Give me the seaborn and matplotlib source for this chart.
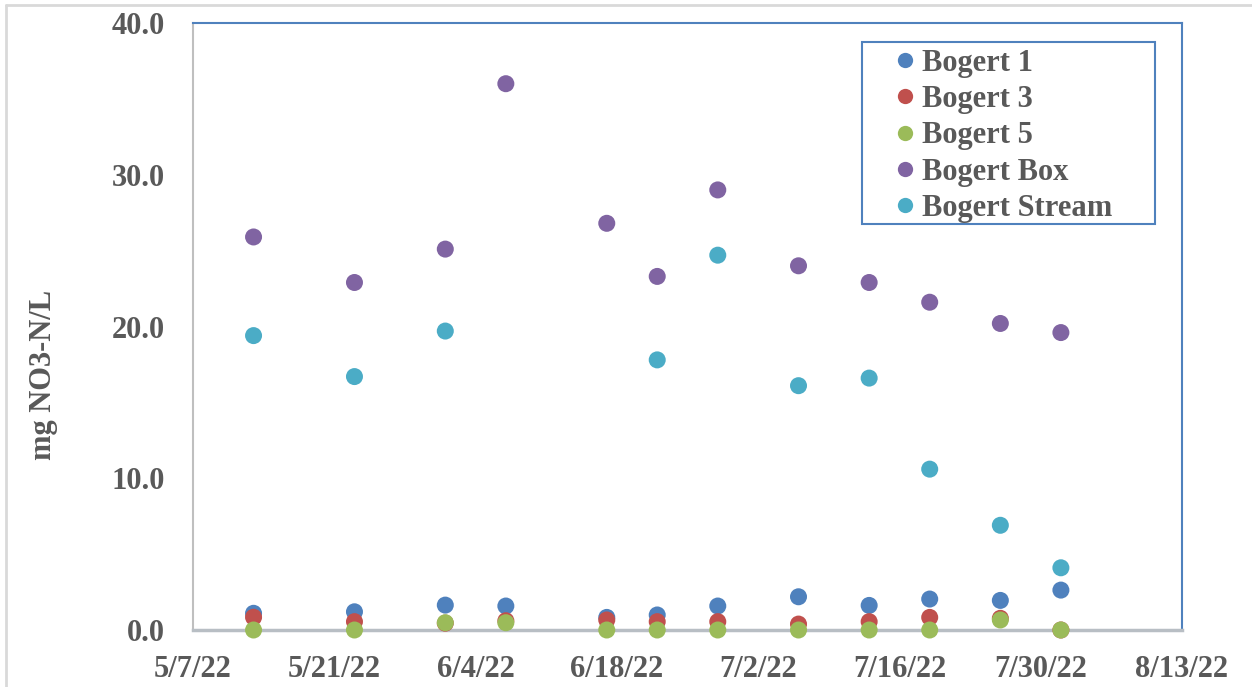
import matplotlib
matplotlib.use("Agg")
import matplotlib.pyplot as plt
import matplotlib.dates as mdates
from matplotlib.lines import Line2D
from matplotlib.patches import Rectangle
import pandas as pd
import seaborn as sns

# Sampling dates and nitrate concentrations (mg NO3-N/L) per site
dates = ["2022-05-13", "2022-05-23", "2022-06-01", "2022-06-07", "2022-06-17", "2022-06-22",
         "2022-06-28", "2022-07-06", "2022-07-13", "2022-07-19", "2022-07-26", "2022-08-01"]
bogert_1 = [1.10, 1.20, 1.64, 1.58, 0.83, 0.99, 1.58, 2.19, 1.62, 2.04, 1.95, 2.63]
bogert_3 = [0.84, 0.55, 0.45, 0.61, 0.66, 0.55, 0.55, 0.39, 0.55, 0.83, 0.77, 0.00]
bogert_5 = [0.00, 0.00, 0.48, 0.48, 0.00, 0.00, 0.00, 0.00, 0.00, 0.00, 0.66, 0.00]
bogert_box = [25.9, 22.9, 25.1, 36.0, 26.8, 23.3, 29.0, 24.0, 22.9, 21.6, 20.2, 19.6]
bogert_stream = [19.4, 16.7, 19.7, None, None, 17.8, 24.7, 16.1, 16.6, 10.6, 6.9, 4.1]

series_names = ["Bogert 1", "Bogert 3", "Bogert 5", "Bogert Box", "Bogert Stream"]
series_values = [bogert_1, bogert_3, bogert_5, bogert_box, bogert_stream]
series_colors = ["#4F81BD", "#C0504D", "#9BBB59", "#8064A2", "#4BACC6"]

x_ticks = ["2022-05-07", "2022-05-21", "2022-06-04", "2022-06-18", "2022-07-02",
           "2022-07-16", "2022-07-30", "2022-08-13"]
y_ticks = [0, 10, 20, 30, 40]

rows = []
for name, vals in zip(series_names, series_values):
    for d, v in zip(dates, vals):
        if v is not None:
            rows.append({"date": pd.Timestamp(d), "value": v, "site": name})
df = pd.DataFrame(rows)

sns.set_style("white")
plt.rcParams["font.family"] = ["Liberation Serif", "DejaVu Serif"]
plt.rcParams["font.weight"] = "bold"

W, H = 1252, 687
text_color = "#595959"
fig = plt.figure(figsize=(W / 100, H / 100), dpi=100)
ax = fig.add_axes([193 / W, 57 / H, 989 / W, 607 / H])

sns.scatterplot(data=df, x="date", y="value", hue="site", hue_order=series_names,
                palette=series_colors, s=150, edgecolor="none", linewidth=0,
                ax=ax, legend=False, zorder=3, clip_on=False)

ax.set_xlim(pd.Timestamp(x_ticks[0]), pd.Timestamp(x_ticks[-1]))
ax.set_ylim(y_ticks[0], y_ticks[-1])
ax.set_xticks([pd.Timestamp(t) for t in x_ticks])
ax.xaxis.set_major_formatter(mdates.DateFormatter("%-m/%-d/%y"))
ax.set_yticks(y_ticks)
ax.yaxis.set_major_formatter(matplotlib.ticker.FormatStrFormatter("%.1f"))
ax.tick_params(axis="both", length=0, labelsize=22, labelcolor=text_color)
ax.tick_params(axis="x", pad=18)
ax.tick_params(axis="y", pad=20)
for lab in ax.get_xticklabels() + ax.get_yticklabels():
    lab.set_fontweight("bold")

ax.set_xlabel("")
ax.set_ylabel("mg NO3-N/L", fontsize=22, fontweight="bold", color=text_color)
ax.yaxis.set_label_coords(-0.137, 0.42)

ax.spines["left"].set_color("#BFBFBF")
ax.spines["left"].set_linewidth(1.5)
ax.spines["bottom"].set_color("#B8BEC4")
ax.spines["bottom"].set_linewidth(2.5)
for side in ("top", "right"):
    ax.spines[side].set_color("#4F81BD")
    ax.spines[side].set_linewidth(1.5)

# legend entries, with the framing box drawn separately
handles = [Line2D([0], [0], marker="o", linestyle="none", markersize=11,
                  markerfacecolor=c, markeredgecolor="none") for c in series_colors]
leg = fig.legend(handles, series_names, loc="center left",
                 bbox_to_anchor=(890 / W, 1 - 136 / H),
                 frameon=False,
                 prop={"family": "Liberation Serif", "weight": "bold", "size": 22},
                 handlelength=1.0, handletextpad=0.05, labelspacing=0.24,
                 borderpad=0, borderaxespad=0)
for t in leg.get_texts():
    t.set_color(text_color)
fig.add_artist(Rectangle((862 / W, 1 - 224 / H), 293 / W, 182 / H,
                         transform=fig.transFigure, fill=False,
                         edgecolor="#4F81BD", linewidth=1.5))

# light outer chart frame
fig.add_artist(Line2D([6 / W, 1], [1 - 5 / H, 1 - 5 / H], color="#D9D9D9", lw=2))
fig.add_artist(Line2D([6 / W, 6 / W], [0, 1 - 5 / H], color="#D9D9D9", lw=2))

fig.savefig("out.png", dpi=100)
